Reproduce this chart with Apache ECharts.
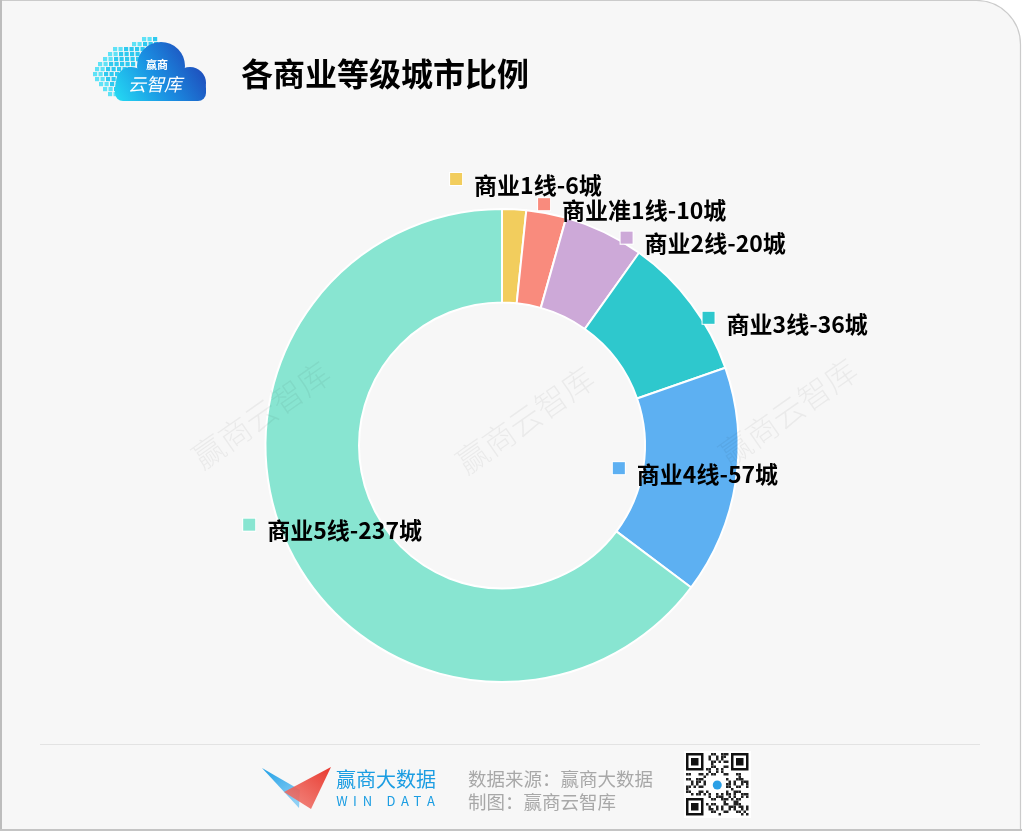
<!DOCTYPE html>
<html>
<head>
<meta charset="utf-8">
<script src="https://cdn.jsdelivr.net/npm/echarts/dist/echarts.min.js"></script>
<style>
html,body{margin:0;padding:0;background:#ffffff;}
#chart{width:1022px;height:831px;}
</style>
</head>
<body>
<div id="chart"></div>
<script>
// ---- data ----
const categories = ['商业1线', '商业准1线', '商业2线', '商业3线', '商业4线', '商业5线'];
const cityCounts = [6, 10, 20, 36, 57, 237];
const titleText = '各商业等级城市比例';
const sourceLines = ['数据来源：赢商大数据', '制图：赢商云智库'];

// ---- styles ----
const sliceColors = ['#F2CD5D', '#F98B7D', '#CDA9D8', '#2EC8CD', '#5DB0F2', '#88E5D1'];
const labelShift = [[14, -68], [94, -46], [118, -28], [129, -6], [3, -1], [3, -1]];
const FONT = '"Noto Sans CJK SC", "Noto Sans", sans-serif';

const chart = echarts.init(document.getElementById('chart'), null, {renderer: 'canvas'});

// rich styles for label markers
const rich = {
  t: {fontSize: 23, fontWeight: 'bold', color: '#000', fontFamily: FONT, lineHeight: 24, padding: [0, 0, 0, 12]}
};
sliceColors.forEach((c, i) => {
  rich['m' + i] = {width: 12, height: 12, backgroundColor: c, borderColor: '#ffffff', borderWidth: 1, verticalAlign: 'top'};
});

const pieData = categories.map((name, i) => ({
  name: name,
  value: cityCounts[i],
  itemStyle: {color: sliceColors[i]},
  label: {offset: labelShift[i]}
}));

// ---- decorative graphics ----
const g = [];
// card
g.push({type: 'rect', z: -10, shape: {x: 1, y: 0.5, width: 1019.5, height: 829, r: [0, 44, 0, 0]},
  style: {fill: '#f7f7f7', stroke: '#cbcbcb', lineWidth: 1.2}});
g.push({type: 'line', z: -9, shape: {x1: 1, y1: 0, x2: 1, y2: 831}, style: {stroke: '#bdbdbd', lineWidth: 2}});
g.push({type: 'line', z: -9, shape: {x1: 0, y1: 830, x2: 1022, y2: 830}, style: {stroke: '#c4c4c4', lineWidth: 2}});
// separator
g.push({type: 'line', z: -9, shape: {x1: 40, y1: 744.5, x2: 980, y2: 744.5}, style: {stroke: '#e3e3e3', lineWidth: 1.2}});

// watermarks (drawn above the ring, very faint)
[[261, 415], [525, 420], [788, 412]].forEach(p => {
  g.push({type: 'text', z: 100, x: p[0], y: p[1], rotation: 35 * Math.PI / 180, silent: true,
    style: {text: '赢商云智库', fontSize: 32, fontWeight: 300, fontFamily: FONT, fill: 'rgba(0,0,0,0.05)', align: 'center', verticalAlign: 'middle'}});
});

// top-left logo: pixel squares
const pixRows = [[37, 142, 3], [42, 132, 5], [47, 113, 7], [52, 108, 7], [57, 103, 7], [62, 98, 7], [67, 95, 7], [72, 93, 7], [77, 95, 6], [82, 99, 5], [87, 103, 4], [92, 108, 3]];
pixRows.forEach(r => {
  for (let k = 0; k < r[2]; k++) {
    g.push({type: 'rect', z: -4, shape: {x: r[1] + k * 5.5, y: r[0], width: 4.2, height: 4.2},
      style: {fill: k < 2 ? '#5fe2f6' : '#2fc9ef'}});
  }
});
const cloudFill = {type: 'linear', x: 115, y: 101, x2: 206, y2: 45, global: true, colorStops: [
  {offset: 0, color: '#25dcf3'}, {offset: 0.45, color: '#1a8fe2'}, {offset: 1, color: '#2038b0'}]};
g.push({type: 'circle', z: -3, shape: {cx: 161, cy: 66, r: 24}, style: {fill: cloudFill}});
g.push({type: 'circle', z: -3, shape: {cx: 190, cy: 83, r: 16}, style: {fill: cloudFill}});
g.push({type: 'circle', z: -3, shape: {cx: 131, cy: 82, r: 15}, style: {fill: cloudFill}});
g.push({type: 'rect', z: -3, shape: {x: 115, y: 80, width: 91, height: 21, r: 8}, style: {fill: cloudFill}});
g.push({type: 'text', z: -2, x: 157, y: 65, style: {text: '赢商', fontSize: 11, fontWeight: 'bold', fontFamily: FONT, fill: '#ffffff', align: 'center', verticalAlign: 'middle'}});
g.push({type: 'text', z: -2, x: 155, y: 84, style: {text: '云智库', fontSize: 18, fontStyle: 'italic', fontFamily: FONT, fill: '#ffffff', align: 'center', verticalAlign: 'middle'}});

// title
g.push({type: 'text', x: 241, y: 74, style: {text: titleText, fontSize: 32, fontWeight: 'bold', fontFamily: FONT, fill: '#000', align: 'left', verticalAlign: 'middle'}});

// footer logo
g.push({type: 'polygon', z: -3, shape: {points: [[262, 768], [300, 790], [299, 808]]},
  style: {fill: {type: 'linear', x: 0, y: 0, x2: 0.6, y2: 1, colorStops: [{offset: 0, color: '#1e9fe6'}, {offset: 1, color: '#8fd0f5'}]}}});
g.push({type: 'polygon', z: -2, shape: {points: [[331, 767], [284, 792], [311, 809]]},
  style: {fill: {type: 'linear', x: 1, y: 0, x2: 0.3, y2: 1, colorStops: [{offset: 0, color: '#e8382e'}, {offset: 1, color: 'rgba(240,110,100,0.85)'}]}}});
g.push({type: 'text', x: 336, y: 779, style: {text: '赢商大数据', fontSize: 20, fontFamily: FONT, fill: '#1b9de2', align: 'left', verticalAlign: 'middle'}});
[['W', 342], ['I', 355], ['N', 367.5], ['D', 391], ['A', 405], ['T', 417.5], ['A', 431]].forEach(l => {
  g.push({type: 'text', x: l[1], y: 801, style: {text: l[0], fontSize: 13, fontFamily: FONT, fill: '#1b9de2', align: 'center', verticalAlign: 'middle'}});
});
// source text
g.push({type: 'text', x: 468, y: 779, style: {text: sourceLines[0], fontSize: 18.5, fontFamily: FONT, fill: '#a8a8a8', align: 'left', verticalAlign: 'middle'}});
g.push({type: 'text', x: 468, y: 802, style: {text: sourceLines[1], fontSize: 18.5, fontFamily: FONT, fill: '#a8a8a8', align: 'left', verticalAlign: 'middle'}});

// QR code (decorative)
const qx = 686, qy = 753, qs = 2.5, qn = 25;
g.push({type: 'rect', z: -3, shape: {x: qx - 2, y: qy - 2, width: 67, height: 67}, style: {fill: '#ffffff'}});
function finder(cx, cy) {
  g.push({type: 'rect', shape: {x: qx + cx * qs, y: qy + cy * qs, width: 7 * qs, height: 7 * qs}, style: {fill: '#111'}});
  g.push({type: 'rect', shape: {x: qx + (cx + 1) * qs, y: qy + (cy + 1) * qs, width: 5 * qs, height: 5 * qs}, style: {fill: '#fff'}});
  g.push({type: 'rect', shape: {x: qx + (cx + 2) * qs, y: qy + (cy + 2) * qs, width: 3 * qs, height: 3 * qs}, style: {fill: '#111'}});
}
for (let i = 0; i < qn; i++) {
  for (let j = 0; j < qn; j++) {
    const inFinder = (i < 8 && j < 8) || (i < 8 && j >= qn - 8) || (i >= qn - 8 && j < 8);
    const inCenter = i >= 9 && i <= 15 && j >= 9 && j <= 15;
    if (inFinder || inCenter) continue;
    if (((i * 7 + j * 11 + i * j) % 5) < 2 || ((i ^ j) % 7 === 0)) {
      g.push({type: 'rect', shape: {x: qx + j * qs, y: qy + i * qs, width: qs, height: qs}, style: {fill: '#222'}});
    }
  }
}
finder(0, 0); finder(qn - 7, 0); finder(0, qn - 7);
g.push({type: 'circle', shape: {cx: qx + 12.5 * qs, cy: qy + 12.5 * qs, r: 7}, style: {fill: '#fff'}});
g.push({type: 'circle', shape: {cx: qx + 12.5 * qs, cy: qy + 12.8 * qs, r: 4.5}, style: {fill: '#2a9fe6'}});

const option = {
  backgroundColor: 'transparent',
  animation: false,
  graphic: {elements: g},
  series: [{
    type: 'pie',
    z: 2,
    center: [502, 445.5],
    radius: [143, 236.5],
    startAngle: 90,
    clockwise: true,
    avoidLabelOverlap: false,
    silent: true,
    itemStyle: {borderColor: '#ffffff', borderWidth: 2},
    label: {
      show: true,
      position: 'inside',
      rotate: 0,
      formatter: p => '{m' + p.dataIndex + '|}{t|' + p.name + '-' + p.value + '城}',
      rich: rich
    },
    labelLayout: {hideOverlap: false},
    labelLine: {show: false},
    emphasis: {disabled: true},
    data: pieData
  }]
};
chart.setOption(option);
</script>
</body>
</html>
